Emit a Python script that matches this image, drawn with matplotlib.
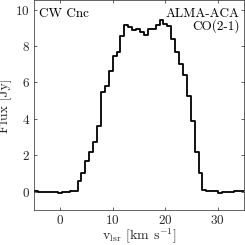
import matplotlib
matplotlib.use("Agg")
import matplotlib.pyplot as plt

plt.rcParams['font.family'] = 'serif'
plt.rcParams['font.serif'] = ['cmr10', 'DejaVu Serif']
plt.rcParams['mathtext.fontset'] = 'cm'
plt.rcParams['axes.formatter.use_mathtext'] = True
plt.rcParams['axes.unicode_minus'] = False

# channel centre velocities [km/s]
velocity = [-5.28, -4.53, -3.79, -3.04, -2.30, -1.56, -0.81, -0.07, 0.68, 1.42,
            2.16, 2.91, 3.65, 4.40, 5.14, 5.88, 6.63, 7.37, 8.12, 8.86,
            9.60, 10.35, 11.09, 11.84, 12.58, 13.32, 14.07, 14.81, 15.56, 16.30,
            17.04, 17.79, 18.53, 19.28, 20.02, 20.76, 21.51, 22.25, 23.00, 23.74,
            24.48, 25.23, 25.97, 26.72, 27.46, 28.20, 28.95, 29.69, 30.44, 31.18,
            31.92, 32.67, 33.41, 34.16, 34.90, 35.64]
# flux density [Jy]
flux = [0.05, 0.05, -0.03, -0.02, 0.00, 0.00, -0.04, -0.05, -0.01, 0.00,
        0.03, 0.03, 0.60, 1.05, 1.70, 2.20, 2.75, 3.60, 5.48, 5.79,
        6.63, 7.45, 7.67, 8.54, 9.16, 9.04, 8.86, 8.91, 8.76, 8.58,
        8.91, 8.91, 9.13, 9.45, 9.22, 9.09, 8.36, 7.67, 7.03, 6.39,
        5.26, 3.90, 2.20, 1.05, 0.10, 0.05, 0.06, 0.03, -0.05, -0.01,
        0.00, 0.00, 0.05, 0.06, 0.05, 0.05]

xticks = [0, 10, 20, 30]
yticks = [0, 2, 4, 6, 8, 10]

fig = plt.figure(figsize=(2.45, 2.45), dpi=100)
ax = fig.add_axes([0.139, 0.143, 0.857, 0.855])
ax.step(velocity, flux, where='mid', color='black', lw=1.3)
ax.set_xlim(-5, 35)
ax.set_ylim(-1, 10.5)
ax.set_xticks(xticks)
ax.set_yticks(yticks)
ax.tick_params(direction='in', top=True, right=True, length=2.5, width=0.5,
               labelsize=9.5, colors='#262626', pad=3)
for s in ax.spines.values():
    s.set_linewidth(0.5)
    s.set_color('#262626')
ax.set_xlabel(r'v$_{\rm lsr}$ [km s$^{-1}$]', fontsize=10, labelpad=0, color='#262626')
ax.set_ylabel('Flux [Jy]', fontsize=10, labelpad=2, color='#262626')
ax.text(0.025, 0.965, 'CW Cnc', transform=ax.transAxes, ha='left', va='top', fontsize=9.5)
ax.text(0.98, 0.965, 'ALMA-ACA\nCO(2-1)', transform=ax.transAxes, ha='right', va='top',
        fontsize=9.5, linespacing=0.9, multialignment='right')
fig.savefig('out.png', dpi=100)
